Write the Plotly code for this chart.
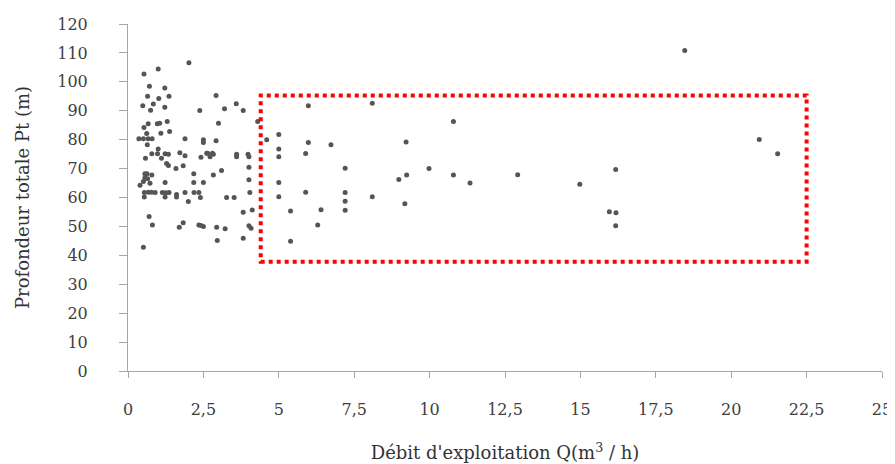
import plotly.graph_objects as go

# Débit d'exploitation Q (m3/h)
debit = [
    0.53, 1.0, 2.02, 0.71, 1.22, 0.65, 1.02, 1.36, 0.84, 0.49, 1.22, 0.75, 2.38,
    1.3, 0.67, 0.97, 1.05, 0.53, 1.38, 1.09, 0.62, 0.36, 0.51, 0.67, 0.8, 1.89,
    0.64, 1.0, 2.92, 3.2, 3.59, 3.82, 3.0, 4.3, 2.5, 2.5, 2.92, 2.61, 2.8, 3.6, 3.98,
    0.79, 0.98, 1.23, 1.34, 1.72, 1.89, 1.11, 0.58,
    1.28, 1.34, 1.59, 1.83, 2.18, 0.56, 0.63, 0.79, 0.56, 0.65, 0.4, 0.51, 0.73, 1.23, 2.18,
    0.54, 0.67, 0.78, 0.9, 1.14, 1.25, 1.36, 1.61, 1.89, 2.19, 2.35,
    0.54, 1.23, 1.61, 2.0, 0.7, 0.81, 1.83, 1.7, 2.35, 0.51,
    2.42, 2.64, 2.72, 2.83, 3.6, 4.01, 4.01, 2.83, 3.1, 2.5, 4.01, 2.4, 3.27, 3.52,
    4.04, 3.82, 4.12, 2.42, 2.5, 2.94, 3.22, 4.01, 4.08, 2.96, 3.82,
    5.98, 8.1, 10.79, 5.0, 4.6, 5.0, 5.0, 5.98, 5.89, 6.73, 9.22, 7.2, 9.98, 9.24,
    8.98, 10.79, 11.34, 12.92, 5.0, 5.89, 7.2, 5.0, 8.1, 7.2, 9.18, 5.39, 6.4, 7.2,
    6.29, 5.39, 20.93, 21.54, 16.17, 14.98, 15.96, 16.18, 16.17, 18.46,
]

# Profondeur totale Pt (m)
profondeur = [
    102.7, 104.4, 106.6, 98.5, 97.9, 95.0, 94.2, 95.0, 92.3, 91.7, 91.2, 90.2, 90.1,
    86.3, 85.5, 85.5, 85.7, 84.2, 82.8, 82.2, 82.1, 80.3, 80.3, 80.3, 80.3, 80.3,
    78.2, 76.8, 95.3, 90.7, 92.4, 90.1, 85.7, 86.3, 80.0, 79.0, 79.6, 75.3, 75.3, 75.0, 75.0,
    75.1, 75.1, 75.1, 75.0, 75.5, 74.4, 73.6, 73.6,
    71.8, 71.1, 70.0, 71.0, 68.2, 68.2, 68.2, 67.8, 66.8, 66.5, 64.2, 65.5, 64.9, 65.2, 65.2,
    61.7, 61.8, 61.8, 61.7, 61.7, 61.6, 61.7, 61.0, 61.7, 61.7, 61.7,
    60.2, 60.2, 60.2, 58.6, 53.4, 50.5, 51.3, 49.7, 50.5, 42.8,
    73.9, 75.3, 74.1, 75.0, 74.1, 74.1, 70.5, 67.8, 69.3, 65.2, 66.1, 60.0, 60.0, 60.0,
    61.7, 54.9, 55.7, 50.3, 50.0, 49.7, 49.2, 50.2, 49.4, 45.1, 45.9,
    91.7, 92.6, 86.3, 81.8, 80.0, 76.8, 74.1, 79.0, 75.2, 78.2, 79.2, 70.1, 70.0, 67.8,
    66.2, 67.8, 65.0, 67.9, 65.2, 61.8, 61.7, 60.3, 60.3, 58.7, 57.8, 55.3, 55.8, 55.6,
    50.5, 44.9, 80.1, 75.1, 69.7, 64.6, 55.1, 54.7, 50.2, 110.8,
]

# Zone encadrée (pointillés rouges)
zone_x = [4.4, 22.5]
zone_y = [37.8, 95.3]

x_tickvals = [0, 2.5, 5, 7.5, 10, 12.5, 15, 17.5, 20, 22.5, 25]
x_ticktext = ["0", "2,5", "5", "7,5", "10", "12,5", "15", "17,5", "20", "22,5", "25"]
y_tickvals = list(range(0, 121, 10))

serif = "DejaVu Serif"

fig = go.Figure()
fig.add_trace(go.Scatter(
    x=debit, y=profondeur, mode="markers",
    marker=dict(symbol="circle", size=5, color="#555555"),
    showlegend=False,
))

fig.add_shape(
    type="rect", xref="x", yref="y",
    x0=zone_x[0], x1=zone_x[1], y0=zone_y[0], y1=zone_y[1],
    line=dict(color="#ff0000", width=4, dash="dot"),
)

# the page body adds an 8px offset at the top-left
fig.update_layout(
    width=887, height=456,
    margin=dict(l=120, r=13, t=16, b=93),
    paper_bgcolor="white", plot_bgcolor="white",
    font=dict(family=serif, color="#333333"),
    xaxis=dict(
        range=[0, 25], tickvals=x_tickvals, ticktext=x_ticktext, automargin=False,
        showgrid=False, zeroline=False, showline=True, linecolor="#a6a6a6", linewidth=1,
        ticks="outside", ticklen=6, tickcolor="#a6a6a6",
        tickfont=dict(family=serif, size=16, color="#404040"),
        ticklabelstandoff=18,
        title=dict(text="Débit d'exploitation Q(m<sup>3</sup> / h)",
                   font=dict(family=serif, size=18, color="#333333"), standoff=28),
    ),
    yaxis=dict(
        range=[0, 120], tickvals=y_tickvals, automargin=False,
        showgrid=False, zeroline=False, showline=True, linecolor="#a6a6a6", linewidth=1,
        ticks="outside", ticklen=8, tickcolor="#a6a6a6",
        tickfont=dict(family=serif, size=16, color="#404040"),
        ticklabelstandoff=28,
        title=dict(text="Profondeur totale Pt (m)",
                   font=dict(family=serif, size=18, color="#333333"), standoff=22),
    ),
)

fig.write_html("out.html")
